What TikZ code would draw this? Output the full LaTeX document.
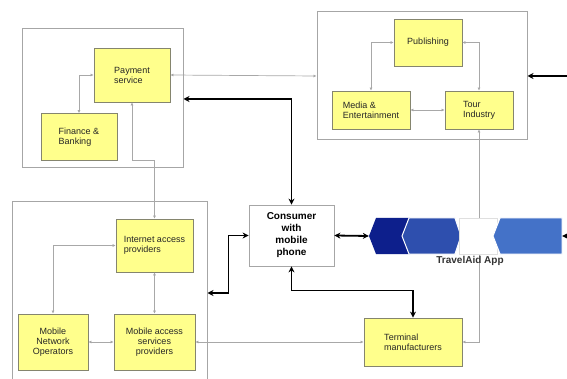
\documentclass[tikz,border=0pt]{standalone}
\usepackage{fontspec}
\setmainfont{Liberation Sans}
\usepackage{tikz}
\usepackage{xcolor}
\usetikzlibrary{arrows.meta}

\definecolor{boxfill}{HTML}{FFFF8C}
\definecolor{boxline}{HTML}{85856E}
\definecolor{grpline}{HTML}{A6A6A6}
\definecolor{linkgray}{HTML}{A8A8A8}
\definecolor{appnavy}{HTML}{0D1F8C}
\definecolor{appmid}{HTML}{2E4FAE}
\definecolor{applight}{HTML}{4472C8}

\begin{document}
\begin{tikzpicture}[x=1pt, y=-1pt,
  grp/.style={draw=grpline, line width=1pt, minimum width=#1},
  unit/.style={draw=boxline, fill=boxfill, line width=0.8pt, align=left,
    font=\fontsize{9}{10}\selectfont, text=black!85, inner sep=1pt},
  link/.style={draw=linkgray, line width=0.7pt, {Latex[length=3pt,width=3pt]}-{Latex[length=3pt,width=3pt]}},
  main/.style={draw=black, line width=1.8pt, {Stealth[length=6pt,width=6pt]}-{Stealth[length=6pt,width=6pt]}},
  feed/.style={draw=black, line width=1.8pt, -{Stealth[length=6pt,width=6pt]}}]
  \clip (0,0) rectangle (567,379);
  \fill[white] (0,0) rectangle (567,379);

  % === grupper ===
  \node[grp=161, minimum height=139] (grpPay) at (102.5,98.5) {};
  \node[grp=210, minimum height=128] (grpMedia) at (422,76) {};
  \node[grp=195, minimum height=182] (grpNet) at (109.5,293) {};

  % === betaling ===
  \node[unit, minimum width=76, minimum height=54] (pay) at (132,75) {Payment\\service};
  \node[unit, minimum width=76, minimum height=47] (fin) at (79,137) {Finance \&\\Banking};

  % === innhold ===
  \node[unit, minimum width=68, minimum height=47] (pub) at (428,42.5) {Publishing};
  \node[unit, minimum width=78, minimum height=38] (media) at (371,110) {Media \&\\Entertainment};
  \node[unit, minimum width=68, minimum height=38] (tour) at (479,110) {Tour\\Industry};

  % === nett ===
  \node[unit, minimum width=77, minimum height=53] (inet) at (154.5,245.5) {Internet access\\providers};
  \node[unit, align=center, minimum width=70, minimum height=56] (mno) at (53,342) {Mobile\\Network\\Operators};
  \node[unit, align=center, minimum width=81, minimum height=56] (mas) at (154.5,342) {Mobile access\\services\\providers};
  \node[unit, minimum width=98, minimum height=48] (term) at (413,342) {Terminal\\manufacturers};

  % === forbruker ===
  \node[draw=grpline, fill=white, line width=0.8pt, align=center,
    minimum width=85, minimum height=61,
    font=\fontsize{10}{12}\selectfont\bfseries] (cons) at (291.5,235.5) {Consumer\\with\\mobile\\phone};

  % === tynne koblinger ===
  \draw[link] (pay.east) -- (grpMedia.west);
  \draw[link] (pay.west) -| (fin.north);
  \draw[link] (pay.south) -- ++(0,58) -| (inet.north);
  \draw[link] (pub.west) -| (media.north);
  \draw[link] (pub.east) -| (tour.north);
  \draw[link] (media.east) -- (tour.west);
  \draw[link] (tour.south) |- (term.east);
  \draw[link] (inet.west) -| (mno.north);
  \draw[link] (inet.south) -- (mas.north);
  \draw[link] (mno.east) -- (mas.west);
  \draw[link] (mas.east) -- (term.west);

  % === TravelAid App (piler mot venstre) ===
  \node[minimum width=193, minimum height=36, inner sep=0pt] (app) at (465.5,236) {};
  \fill[appnavy] (369,236) -- (376,218) -- (410,218) -- (410,254) -- (376,254) -- cycle;
  \filldraw[fill=appmid, draw=white, line width=1pt]
    (402,236) -- (409,218) -- (455,218) -- (461,236) -- (455,254) -- (409,254) -- cycle;
  \filldraw[fill=white, draw=gray!25, line width=0.5pt] (459,218) rectangle (497,254);
  \filldraw[fill=applight, draw=white, line width=1pt]
    (493,236) -- (500,218) -- (562,218) -- (562,254) -- (500,254) -- cycle;
  \node[font=\fontsize{10}{11}\selectfont\bfseries, text=black!80, anchor=north,
    inner sep=0pt] (appname) at ([xshift=4.5pt, yshift=-2pt]app.south) {TravelAid App};

  % === tykke koblinger ===
  \coordinate (rimA) at (570,76);
  \coordinate (rimB) at (570,236);
  \draw[main] (grpPay.east |- 0,99) -| (cons.north);
  \draw[main] (grpNet.east) -- ++(21,0) |- (cons.west);
  \draw[main] (cons.south) -- ++(0,24) -| (term.north);
  \draw[main] (cons.east) -- (app.west);
  \draw[feed] (rimA) -- (grpMedia.east);
  \draw[feed] (rimB) -- (app.east);
\end{tikzpicture}
\end{document}
